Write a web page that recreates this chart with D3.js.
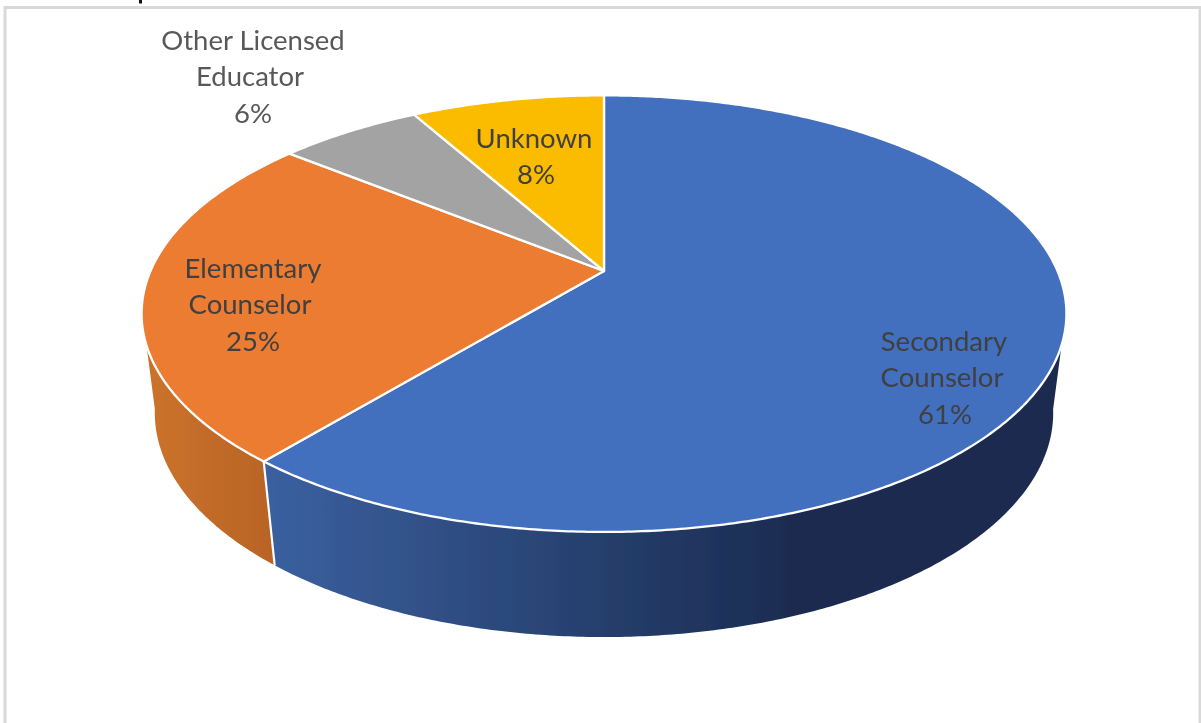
<!DOCTYPE html>
<html><head><meta charset="utf-8">
<script src="https://cdn.jsdelivr.net/npm/d3@7"></script>
<style>html,body{margin:0;padding:0;background:#fff;overflow:hidden}svg{display:block}</style>
</head><body><svg id="c" width="1201" height="723"></svg>
<script>
const categories = ["Secondary Counselor","Elementary Counselor","Other Licensed Educator","Unknown"];
const values = [61,24.8,6.05,8.15];
const labelLines = [["Secondary","Counselor"],["Elementary","Counselor"],["Other Licensed","Educator"],["Unknown"]];
const colors = ["#4270BF","#EB7B31","#A3A3A3","#FBBC04"];
const sideStops = [["#3A609F","#1A2B4F"],["#CB722C","#B96425"]];
const labelAnchors = [[945,341],[253,268],[253,40],[534,138]];
const lineNudges = [[-1,-3,0],[0,-3,0],[0,-3,0],[0,2]];
const labelColors = ["#404040","#404040","#595959","#404040"];

const svg = d3.select("#c");
const cx = 604;
const topPlane = {R:453.5, a:271, b:157, c:-0.1954};
const basePlane = {R:441, a:370.4, b:145.6, c:-0.19};
const project = (p,t) => { // t: clockwise angle from 12 o'clock
  const u=Math.sin(t), v=-Math.cos(t), d=1+p.c*v;
  return [cx+p.R*u/d, (p.a+p.b*v)/d];
};
const arcs = d3.pie().sort(null).value(d=>d)(values);
const line = d3.line();
const deg = Math.PI/180;
const sweep = (t0,t1) => { const n=Math.max(2,Math.ceil(Math.abs(t1-t0)/(deg/2))); return d3.range(n+1).map(i=>t0+(t1-t0)*i/n); };

// frame
svg.append("rect").attr("x",5).attr("y",7.5).attr("width",1195).attr("height",730).attr("fill","#fff").attr("stroke","#d9d9d9").attr("stroke-width",3);
svg.append("rect").attr("x",139).attr("y",0).attr("width",3).attr("height",3.5).attr("fill","#111");

// gradients
const defs = svg.append("defs");
defs.append("filter").attr("id","soft").attr("x",0).attr("y",0).attr("width","100%").attr("height","100%")
  .append("feGaussianBlur").attr("stdDeviation",0.45);
const gradRange = [[270,800],[150,270]];
sideStops.forEach((s,i)=>{
  const g=defs.append("linearGradient").attr("id","side"+i).attr("gradientUnits","userSpaceOnUse")
    .attr("x1",gradRange[i][0]).attr("x2",gradRange[i][1]).attr("y1",0).attr("y2",0);
  g.append("stop").attr("offset",0).attr("stop-color",s[0]);
  g.append("stop").attr("offset",1).attr("stop-color",s[1]);
});

const chart = svg.append("g").attr("filter","url(#soft)");

// side walls: only the two front-facing slices show a wall.
// Silhouette angles: where the wall leaves the top rim and meets the base rim.
const topRim = [109.3*deg, 250.7*deg];
const baseRim = [100*deg, 260*deg];
const split = arcs[0].endAngle;
const walls = [
  {i:0, top:sweep(topRim[0],split), base:sweep(split,baseRim[0])},
  {i:1, top:sweep(split,topRim[1]), base:sweep(baseRim[1],split)}
];
chart.append("g").selectAll("path").data(walls).join("path")
  .attr("d",w=>line([...w.top.map(t=>project(topPlane,t)),...w.base.map(t=>project(basePlane,t))])+"Z")
  .attr("fill",w=>`url(#side${w.i})`);

// separator on the visible wall
chart.append("path").attr("d",line([project(topPlane,split),project(basePlane,split)]))
  .attr("fill","none").attr("stroke","#fff").attr("stroke-width",2.2);

// top faces
chart.append("g").selectAll("path").data(arcs).join("path")
  .attr("d",a=>line([[cx,topPlane.a],...sweep(a.startAngle,a.endAngle).map(t=>project(topPlane,t))])+"Z")
  .attr("fill",(a,i)=>colors[i]).attr("stroke","#fff").attr("stroke-width",2.3).attr("stroke-linejoin","round");

// labels
const lineH=36.6;
const total=d3.sum(values);
const fmt=d3.format(".0%");
const lab=chart.append("g").attr("font-family","Lato, 'Open Sans', sans-serif").attr("font-size",27.5).attr("text-anchor","middle");
labelLines.forEach((lines,i)=>{
  lab.append("g").selectAll("text").data([...lines,fmt(values[i]/total)]).join("text")
    .attr("x",(d,k)=>labelAnchors[i][0]+lineNudges[i][k]).attr("y",(d,k)=>labelAnchors[i][1]+k*lineH+9.5)
    .attr("fill",labelColors[i]).text(d=>d);
});
</script></body></html>
